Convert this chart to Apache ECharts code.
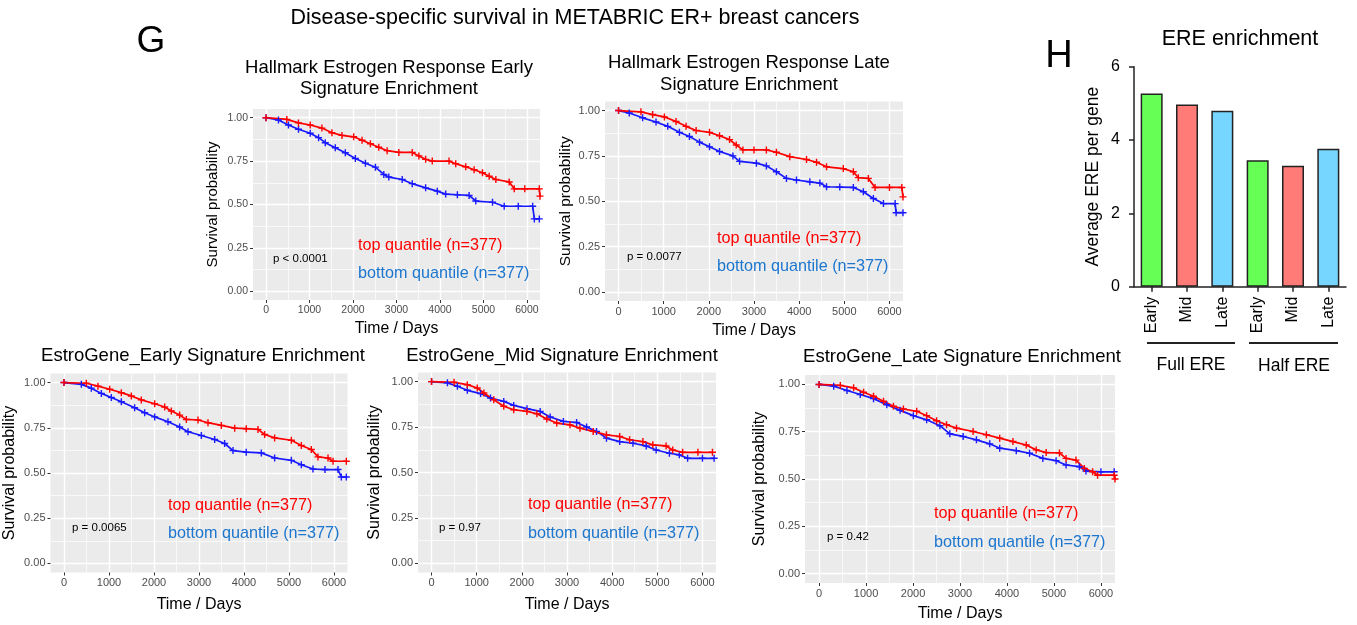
<!doctype html>
<html lang="en">
<head>
<meta charset="UTF-8">
<title>Disease-specific survival in METABRIC ER+ breast cancers</title>
<style>
  html, body { margin: 0; padding: 0; background: #fff; }
  #main { width: 1357px; height: 625px; }
</style>
<script src="https://cdn.jsdelivr.net/npm/echarts@6.0.0/dist/echarts.min.js"></script>
</head>
<body>
<div id="main"></div>
<script type="text/javascript">
// KM curves, [day, survival]
var hmEarlyTop = [[0,1],[477,0.99],[746,0.97],[1015,0.958],[1285,0.94],[1515,0.913],[1746,0.898],[2015,0.89],[2208,0.87],[2400,0.85],[2592,0.83],[2785,0.81],[3054,0.80],[3362,0.80],[3515,0.78],[3670,0.76],[3823,0.75],[4208,0.75],[4362,0.735],[4592,0.717],[4785,0.70],[4977,0.683],[5131,0.663],[5285,0.644],[5592,0.63],[5708,0.59],[5950,0.59],[6285,0.59],[6300,0.548]];
var hmEarlyBottom = [[0,1],[285,0.987],[515,0.958],[746,0.933],[1015,0.91],[1208,0.885],[1362,0.856],[1592,0.827],[1823,0.798],[2054,0.765],[2285,0.738],[2515,0.715],[2708,0.673],[2823,0.658],[3131,0.644],[3362,0.62],[3670,0.596],[3938,0.577],[4131,0.56],[4400,0.556],[4670,0.552],[4823,0.52],[5208,0.513],[5477,0.49],[5800,0.49],[6131,0.49],[6170,0.417],[6285,0.417]];
var hmLateTop = [[0,1],[496,0.993],[755,0.978],[1015,0.965],[1274,0.94],[1496,0.913],[1718,0.89],[2015,0.88],[2237,0.861],[2459,0.84],[2607,0.81],[2755,0.783],[3000,0.783],[3274,0.783],[3496,0.77],[3793,0.746],[4163,0.73],[4385,0.715],[4607,0.69],[4978,0.68],[5200,0.663],[5311,0.63],[5533,0.626],[5681,0.576],[6000,0.576],[6274,0.576],[6300,0.524]];
var hmLateBottom = [[0,1],[237,0.987],[533,0.96],[830,0.937],[1089,0.913],[1348,0.88],[1570,0.857],[1793,0.826],[2015,0.80],[2237,0.774],[2533,0.75],[2681,0.72],[3052,0.71],[3274,0.695],[3496,0.663],[3718,0.626],[3941,0.617],[4237,0.607],[4459,0.60],[4607,0.58],[4900,0.578],[5200,0.576],[5422,0.552],[5644,0.515],[5867,0.487],[6126,0.487],[6148,0.437],[6300,0.437]];
var egEarlyTop = [[0,1],[496,0.996],[755,0.98],[1015,0.963],[1274,0.944],[1496,0.926],[1718,0.904],[2015,0.883],[2237,0.865],[2385,0.843],[2570,0.82],[2719,0.796],[2978,0.793],[3200,0.778],[3496,0.763],[3793,0.748],[4050,0.745],[4311,0.741],[4459,0.713],[4681,0.694],[5052,0.681],[5274,0.652],[5496,0.63],[5644,0.589],[5867,0.583],[5978,0.565],[6274,0.565]];
var egEarlyBottom = [[0,1],[385,0.99],[607,0.969],[830,0.94],[1052,0.917],[1274,0.894],[1570,0.861],[1793,0.833],[2015,0.81],[2311,0.783],[2570,0.754],[2756,0.728],[3052,0.707],[3348,0.685],[3570,0.663],[3756,0.624],[4050,0.615],[4385,0.611],[4681,0.583],[5052,0.57],[5274,0.546],[5533,0.522],[5800,0.519],[6089,0.519],[6163,0.478],[6274,0.478]];
var egMidTop = [[0,1],[499,0.996],[792,0.983],[1012,0.965],[1159,0.937],[1379,0.90],[1599,0.864],[1820,0.845],[2113,0.836],[2333,0.823],[2553,0.794],[2773,0.772],[3067,0.762],[3287,0.744],[3580,0.726],[3874,0.707],[4167,0.698],[4387,0.68],[4681,0.67],[4901,0.652],[5194,0.646],[5341,0.624],[5561,0.611],[5900,0.611],[6222,0.611]];
var egMidBottom = [[0,1],[352,0.993],[572,0.974],[792,0.952],[1086,0.934],[1306,0.91],[1599,0.891],[1820,0.869],[2113,0.851],[2406,0.836],[2627,0.805],[2920,0.781],[3213,0.775],[3434,0.75],[3654,0.726],[3874,0.689],[4167,0.67],[4461,0.661],[4754,0.646],[4974,0.624],[5268,0.606],[5488,0.597],[5671,0.578],[6000,0.578],[6258,0.578]];
var egLateTop = [[0,1],[452,0.995],[735,0.982],[947,0.959],[1159,0.938],[1371,0.911],[1583,0.885],[1795,0.87],[2078,0.858],[2290,0.835],[2502,0.808],[2714,0.787],[2926,0.769],[3279,0.751],[3562,0.734],[3845,0.716],[4127,0.698],[4410,0.68],[4622,0.654],[4834,0.64],[5117,0.638],[5258,0.609],[5470,0.60],[5647,0.556],[5823,0.538],[5929,0.52],[6283,0.52],[6300,0.50]];
var egLateBottom = [[0,1],[311,0.991],[594,0.968],[876,0.947],[1159,0.925],[1442,0.893],[1724,0.863],[2007,0.835],[2290,0.813],[2572,0.782],[2784,0.739],[3067,0.725],[3350,0.707],[3633,0.686],[3845,0.663],[4198,0.65],[4481,0.636],[4763,0.609],[5046,0.597],[5258,0.574],[5541,0.565],[5682,0.542],[6000,0.538],[6283,0.538]];

var xTicks = [0, 1000, 2000, 3000, 4000, 5000, 6000];
var xMinor = [500, 1500, 2500, 3500, 4500, 5500];
var yTicks = [0, 0.25, 0.5, 0.75, 1];
var yMinor = [0.125, 0.375, 0.625, 0.875];

// ERE enrichment bars
var barKeys = ['fullEarly', 'fullMid', 'fullLate', 'halfEarly', 'halfMid', 'halfLate'];
var barLabels = ['Early', 'Mid', 'Late', 'Early', 'Mid', 'Late'];
var barValues = [5.27, 4.97, 4.80, 3.45, 3.30, 3.76];
var barColors = ['#66FF55', '#FF7B77', '#77D6FF', '#66FF55', '#FF7B77', '#77D6FF'];

var FONT = '"Liberation Sans", Arial, Helvetica, sans-serif';
var RED = '#FF0000', BLUE = '#1A1AFF', LEGEND_BLUE = '#1C76CF';
var PLUS = 'path://M4,0H6V4H10V6H6V10H4V6H0V4H4Z';

// gray panel box [left, top, width, height] and text spots
var panels = [
    {box: [253, 109, 287, 191], top: hmEarlyTop, bottom: hmEarlyBottom, tickFs: 10.5, nameFs: 15, xNameFs: 15.8, yGap: 33, xGap: 21,
     title: ['Hallmark Estrogen Response Early', 'Signature Enrichment'], tx: 389, ty: [68, 89],
     lx: 358, ly: [246, 274], p: 'p < 0.0001', px: 273, py: 259},
    {box: [605, 101.5, 298, 199.5], top: hmLateTop, bottom: hmLateBottom, tickFs: 11, nameFs: 15.5, xNameFs: 15.8, yGap: 31, xGap: 22,
     title: ['Hallmark Estrogen Response Late', 'Signature Enrichment'], tx: 749, ty: [63, 85],
     lx: 717, ly: [239, 267], p: 'p = 0.0077', px: 627, py: 257},
    {box: [50.5, 373.5, 297, 199], top: egEarlyTop, bottom: egEarlyBottom, tickFs: 11, nameFs: 16, xNameFs: 16, yGap: 33, xGap: 24,
     title: ['EstroGene_Early Signature Enrichment'], tx: 203, ty: [356],
     lx: 168, ly: [506, 534], p: 'p = 0.0065', px: 72, py: 528},
    {box: [418, 372.5, 298, 200], top: egMidTop, bottom: egMidBottom, tickFs: 11, nameFs: 16, xNameFs: 16, yGap: 35, xGap: 24,
     title: ['EstroGene_Mid Signature Enrichment'], tx: 562, ty: [356],
     lx: 528, ly: [505, 534], p: 'p = 0.97', px: 439, py: 528},
    {box: [805, 375, 310, 208], top: egLateTop, bottom: egLateBottom, tickFs: 11, nameFs: 16, xNameFs: 16, yGap: 37, xGap: 23,
     title: ['EstroGene_Late Signature Enrichment'], tx: 962, ty: [357],
     lx: 934, ly: [514, 543], p: 'p = 0.42', px: 827, py: 537}
];

function txt(x, y, text, size, color, align) {
    return {
        type: 'text', x: x, y: y, z: 100, silent: true,
        style: {text: text, fontSize: size, fontFamily: FONT, fill: color,
                align: align || 'center', verticalAlign: 'middle',
                textAlign: align || 'center', textVerticalAlign: 'middle'}
    };
}

var grids = [], xAxes = [], yAxes = [], series = [], graphics = [];

panels.forEach(function (p, i) {
    grids.push({left: p.box[0], top: p.box[1], width: p.box[2], height: p.box[3],
                show: true, backgroundColor: '#EBEBEB', borderWidth: 0, outerBoundsMode: 'none'});
    // major axes
    xAxes.push({
        type: 'value', gridIndex: i, min: -300, max: 6300,
        axisLine: {show: false, onZero: false},
        axisTick: {show: true, length: 3, lineStyle: {color: '#333', width: 1}, customValues: xTicks},
        axisLabel: {customValues: xTicks, color: '#4D4D4D', fontSize: p.tickFs, fontFamily: FONT, margin: 5,
                    formatter: function (v) { return String(v); }},
        splitLine: {show: true, lineStyle: {color: '#FFFFFF', width: 1.4}},
        name: 'Time / Days', nameLocation: 'middle', nameGap: p.xGap, nameMoveOverlap: false,
        nameTextStyle: {color: '#000', fontSize: p.xNameFs, fontFamily: FONT}
    });
    xAxes.push({
        type: 'value', gridIndex: i, min: -300, max: 6300,
        axisLine: {show: false, onZero: false},
        axisTick: {show: false, customValues: xMinor},
        axisLabel: {show: false},
        splitLine: {show: true, lineStyle: {color: '#FFFFFF', width: 0.7}}
    });
    yAxes.push({
        type: 'value', gridIndex: i, min: -0.05, max: 1.05,
        axisLine: {show: false, onZero: false},
        axisTick: {show: true, length: 3, lineStyle: {color: '#333', width: 1}, customValues: yTicks},
        axisLabel: {customValues: yTicks, color: '#4D4D4D', fontSize: p.tickFs, fontFamily: FONT, margin: 5,
                    formatter: function (v) { return v.toFixed(2); }},
        splitLine: {show: true, lineStyle: {color: '#FFFFFF', width: 1.4}},
        name: 'Survival probability', nameLocation: 'middle', nameGap: p.yGap, nameMoveOverlap: false,
        nameTextStyle: {color: '#000', fontSize: p.nameFs, fontFamily: FONT}
    });
    yAxes.push({
        type: 'value', gridIndex: i, min: -0.05, max: 1.05,
        axisLine: {show: false, onZero: false},
        axisTick: {show: false, customValues: yMinor},
        axisLabel: {show: false},
        splitLine: {show: true, lineStyle: {color: '#FFFFFF', width: 0.7}}
    });

    // fine KM steps read as a jagged slope at this size
    [[p.bottom, BLUE], [p.top, RED]].forEach(function (s) {
        series.push({
            type: 'line', xAxisIndex: 2 * i, yAxisIndex: 2 * i, data: s[0],
            symbol: PLUS, symbolSize: 7, showSymbol: true, silent: true,
            lineStyle: {color: s[1], width: 1.7}, itemStyle: {color: s[1]}
        });
    });

    p.title.forEach(function (t, k) { graphics.push(txt(p.tx, p.ty[k], t, 18.5, '#000')); });
    graphics.push(txt(p.lx, p.ly[0], 'top quantile (n=377)', 16.2, RED, 'left'));
    graphics.push(txt(p.lx, p.ly[1], 'bottom quantile (n=377)', 16.2, LEGEND_BLUE, 'left'));
    graphics.push(txt(p.px, p.py, p.p, 11.5, '#000', 'left'));
});

// bar chart H
var bi = panels.length;
grids.push({left: 1134, top: 66.7, width: 212, height: 220, show: false, outerBoundsMode: 'none'});
xAxes.push({
    type: 'category', gridIndex: bi, data: barKeys,
    axisLine: {show: true, onZero: false, lineStyle: {color: '#222', width: 1.5}},
    axisTick: {show: true, alignWithLabel: true, length: 5, lineStyle: {color: '#222', width: 1.5}},
    axisLabel: {rotate: 90, margin: 10, color: '#000', fontSize: 16, fontFamily: FONT,
                formatter: function (v, idx) { return barLabels[idx]; }},
    splitLine: {show: false}
});
yAxes.push({
    type: 'value', gridIndex: bi, min: 0, max: 6, interval: 2,
    axisLine: {show: true, onZero: false, lineStyle: {color: '#222', width: 1.5}},
    axisTick: {show: true, length: 5, lineStyle: {color: '#222', width: 1.5}},
    axisLabel: {color: '#000', fontSize: 16, fontFamily: FONT, margin: 14},
    splitLine: {show: false},
    name: 'Average ERE per gene', nameLocation: 'middle', nameGap: 32, nameMoveOverlap: false,
    nameTextStyle: {color: '#000', fontSize: 17.5, fontFamily: FONT}
});
series.push({
    type: 'bar', xAxisIndex: 2 * bi, yAxisIndex: 2 * bi, barWidth: 22, silent: true,
    data: barValues.map(function (v, k) {
        return {value: v, itemStyle: {color: barColors[k], borderColor: '#222', borderWidth: 1.5}};
    })
});

// figure text
graphics.push(txt(575, 18, 'Disease-specific survival in METABRIC ER+ breast cancers', 21.5, '#000'));
graphics.push(txt(151, 42, 'G', 37, '#000'));
graphics.push(txt(1059, 56.5, 'H', 38, '#000'));
graphics.push(txt(1240, 39, 'ERE enrichment', 21.5, '#000'));
graphics.push(txt(1191, 365, 'Full ERE', 17.5, '#000'));
graphics.push(txt(1294, 366, 'Half ERE', 17.5, '#000'));
graphics.push({type: 'line', silent: true, shape: {x1: 1147, y1: 343, x2: 1235, y2: 343},
               style: {stroke: '#222', lineWidth: 2}});
graphics.push({type: 'line', silent: true, shape: {x1: 1249, y1: 343, x2: 1338, y2: 343},
               style: {stroke: '#222', lineWidth: 2}});

var myChart = echarts.init(document.getElementById('main'));
myChart.setOption({
    animation: false,
    backgroundColor: '#FFFFFF',
    grid: grids,
    xAxis: xAxes,
    yAxis: yAxes,
    series: series,
    graphic: graphics
});
</script>
</body>
</html>
